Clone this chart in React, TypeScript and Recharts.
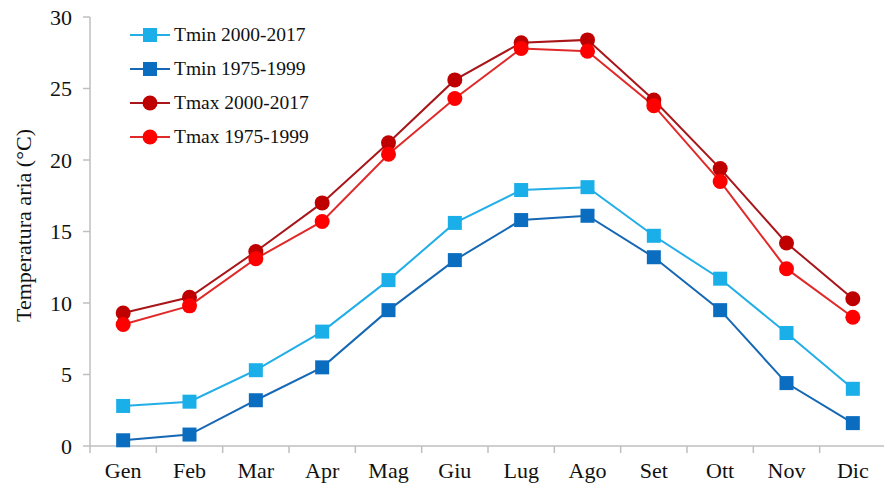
import React from 'react';
import { LineChart, Line, XAxis, YAxis, Legend } from 'recharts';

const months = ['Gen', 'Feb', 'Mar', 'Apr', 'Mag', 'Giu', 'Lug', 'Ago', 'Set', 'Ott', 'Nov', 'Dic'];
const tmin2000 = [2.8, 3.1, 5.3, 8.0, 11.6, 15.6, 17.9, 18.1, 14.7, 11.7, 7.9, 4.0];
const tmin1975 = [0.4, 0.8, 3.2, 5.5, 9.5, 13.0, 15.8, 16.1, 13.2, 9.5, 4.4, 1.6];
const tmax2000 = [9.3, 10.4, 13.6, 17.0, 21.2, 25.6, 28.2, 28.4, 24.2, 19.4, 14.2, 10.3];
const tmax1975 = [8.5, 9.8, 13.1, 15.7, 20.4, 24.3, 27.8, 27.6, 23.8, 18.5, 12.4, 9.0];
const yTicks = [0, 5, 10, 15, 20, 25, 30];

const data = months.map((m, i) => ({
  month: m,
  tmin2000: tmin2000[i],
  tmin1975: tmin1975[i],
  tmax2000: tmax2000[i],
  tmax1975: tmax1975[i],
}));

const FONT = '"Liberation Serif", "Times New Roman", serif';
const AXIS = '#bfbfbf';
const AXIS_FS = 22;

const series = [
  { key: 'tmin2000', name: 'Tmin 2000-2017', line: '#22aee6', fill: '#1aafe9', shape: 'square' },
  { key: 'tmin1975', name: 'Tmin 1975-1999', line: '#1668b4', fill: '#0b6dc0', shape: 'square' },
  { key: 'tmax2000', name: 'Tmax 2000-2017', line: '#a8161a', fill: '#bf0000', shape: 'circle' },
  { key: 'tmax1975', name: 'Tmax 1975-1999', line: '#e02a2a', fill: '#ff0000', shape: 'circle' },
];

const makeDot = (shape: string, fill: string) => (props: any) => {
  const { cx, cy, index } = props;
  if (cx == null || cy == null) return null;
  if (shape === 'square') {
    return <rect key={index} x={cx - 7} y={cy - 7} width={14} height={14} fill={fill} />;
  }
  return <circle key={index} cx={cx} cy={cy} r={7.5} fill={fill} />;
};

const XTick = (props: any) => {
  const { x, y, payload } = props;
  const off = payload.offset || 0;
  const isLast = payload.value === months[months.length - 1];
  return (
    <g>
      <line x1={x - off} x2={x - off} y1={y} y2={y + 7} stroke={AXIS} strokeWidth={1.5} />
      {isLast && <line x1={x + off} x2={x + off} y1={y} y2={y + 7} stroke={AXIS} strokeWidth={1.5} />}
      <text x={x} y={y + 32} textAnchor="middle" fontFamily={FONT} fontSize={AXIS_FS} fill="#111">
        {payload.value}
      </text>
    </g>
  );
};

const renderLegend = (props: any) => {
  const payload: any[] = props.payload || [];
  const ordered = series
    .map((s) => ({ s, p: payload.find((p: any) => p.value === s.name) }))
    .filter((e) => e.p);
  return (
    <div style={{ fontFamily: FONT, fontSize: 19.5, color: '#111' }}>
      {ordered.map(({ s, p }, i) => (
        <div key={i} style={{ display: 'flex', alignItems: 'center', height: 34 }}>
          <svg width={42} height={20} style={{ marginRight: 2 }}>
            <line x1={0} x2={40} y1={10} y2={10} stroke={s.line} strokeWidth={2} />
            {s.shape === 'square' ? (
              <rect x={13} y={3} width={14} height={14} fill={s.fill} />
            ) : (
              <circle cx={20} cy={10} r={7.5} fill={s.fill} />
            )}
          </svg>
          <span>{p.value}</span>
        </div>
      ))}
    </div>
  );
};

export default function App() {
  return (
    <div style={{ position: 'absolute', left: 0, top: 0, width: 884, height: 488, overflow: 'hidden', background: '#fff' }}>
      <LineChart width={886} height={488} data={data} margin={{ top: 17, right: 0, bottom: 8, left: 0 }}>
        <XAxis
          dataKey="month"
          scale="band"
          interval={0}
          height={34}
          tickLine={false}
          tickSize={0}
          tickMargin={0}
          stroke={AXIS}
          strokeWidth={1.5}
          tick={<XTick />}
        />
        <YAxis
          domain={[0, 30]}
          ticks={yTicks}
          width={90}
          tickSize={7}
          tickMargin={11}
          stroke={AXIS}
          strokeWidth={1.5}
          tick={{ fontFamily: FONT, fontSize: AXIS_FS, fill: '#111' }}
          label={{
            value: 'Temperatura aria (°C)',
            angle: -90,
            position: 'insideLeft',
            offset: 23,
            dy: -6,
            style: { fontFamily: FONT, fontSize: AXIS_FS, fill: '#111', textAnchor: 'middle' },
          }}
        />
        <Legend
          layout="vertical"
          align="center"
          verticalAlign="middle"
          content={renderLegend}
          wrapperStyle={{ left: 130, top: 18, width: 200, height: 140 }}
        />
        {series.map((s) => (
          <Line
            key={s.key}
            dataKey={s.key}
            name={s.name}
            stroke={s.line}
            strokeWidth={2}
            dot={makeDot(s.shape, s.fill)}
            activeDot={false}
            isAnimationActive={false}
          />
        ))}
      </LineChart>
    </div>
  );
}
